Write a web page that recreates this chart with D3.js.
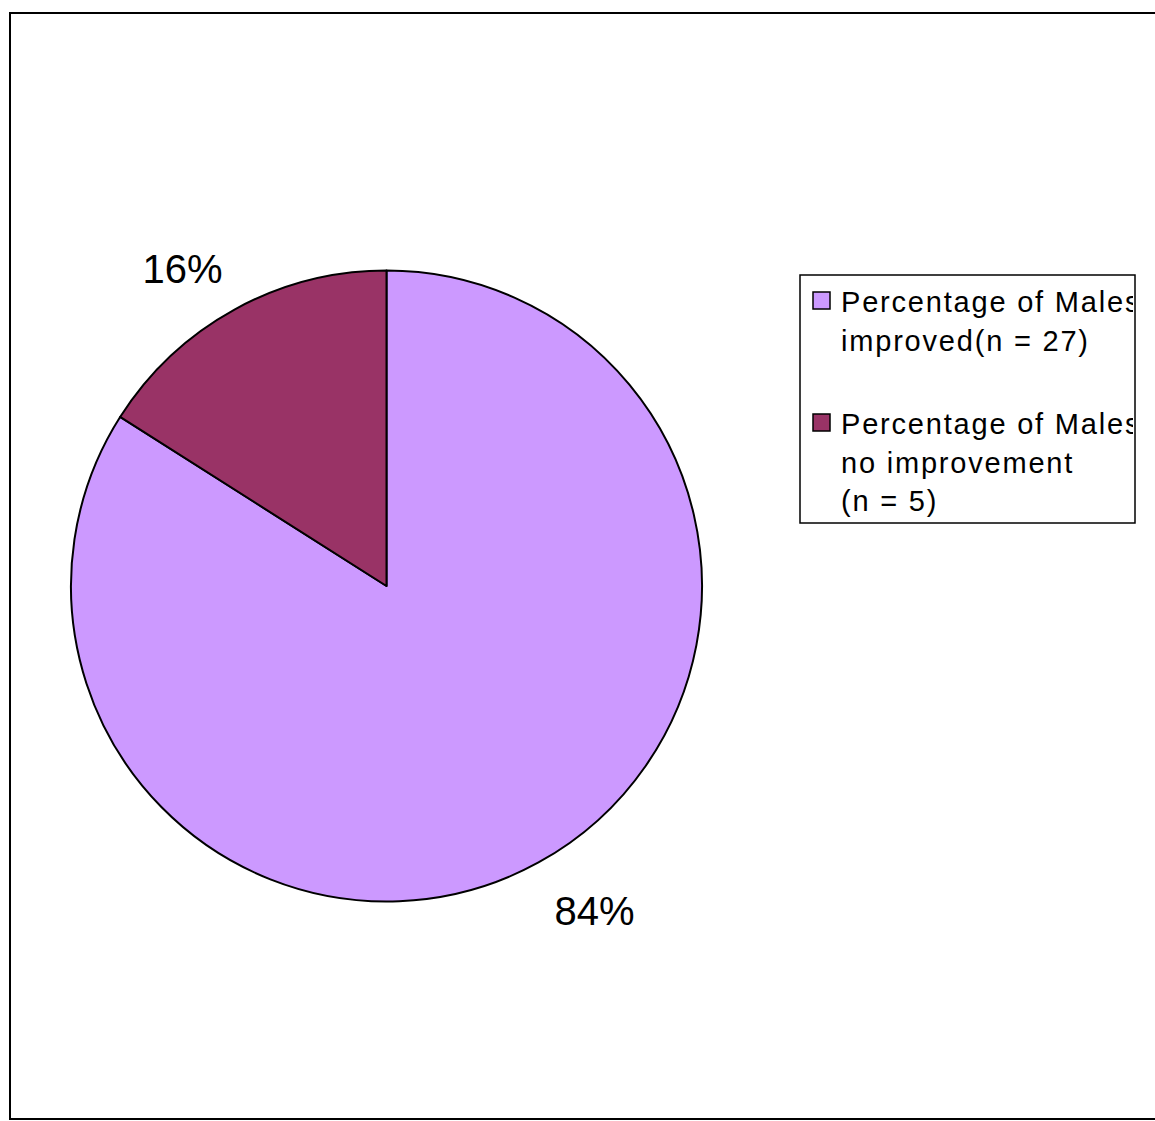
<!DOCTYPE html>
<html>
<head>
<meta charset="utf-8">
<script src="https://cdn.jsdelivr.net/npm/d3@7"></script>
<style>
  body { margin: 0; background: #fff; }
  svg { display: block; font-family: "Liberation Sans", Arial, sans-serif; }
</style>
</head>
<body>
<svg id="chart" width="1155" height="1121"></svg>
<script>
// slice shares (percent) and the counts shown in the legend
const categories = ["Percentage of Males improved", "Percentage of Males no improvement"]
const percents = [84, 16]
const counts = [27, 5]
const sliceColors = ["#cc99ff", "#993366"]
const legendLines = [
    ["Percentage of Males", "improved(n = 27)"],
    ["Percentage of Males", "no improvement", "(n = 5)"]
]

const svg = d3.select("#chart")

// outer chart frame (right side runs off the page)
svg.append("rect")
    .attr("x", 10).attr("y", 13)
    .attr("width", 1160).attr("height", 1106)
    .attr("fill", "none")
    .attr("stroke", "#000")
    .attr("stroke-width", 2)

const cx = 386.5, cy = 586, radius = 315.5

const pie = d3.pie().sort(null).value(d => d)
const arc = d3.arc().innerRadius(0).outerRadius(radius)
const arcs = pie(percents)

const g = svg.append("g").attr("transform", `translate(${cx},${cy})`)

g.selectAll("path")
    .data(arcs)
    .join("path")
    .attr("d", arc)
    .attr("fill", (d, i) => sliceColors[i])
    .attr("stroke", "#000")
    .attr("stroke-width", 2)
    .attr("stroke-linejoin", "round")

// percentage labels sit outside the pie
const labelPos = [[208, 339], [-204, -303]] // offsets from center per slice
g.selectAll("text.pct")
    .data(arcs)
    .join("text")
    .attr("class", "pct")
    .attr("x", (d, i) => labelPos[i][0])
    .attr("y", (d, i) => labelPos[i][1])
    .attr("text-anchor", "middle")
    .attr("font-size", 40)
    .attr("fill", "#000")
    .text(d => d.value + "%")

// legend
const lx = 800, ly = 275, lw = 335, lh = 248
svg.append("clipPath").attr("id", "legclip")
    .append("rect").attr("x", lx).attr("y", ly).attr("width", lw - 2).attr("height", lh)

svg.append("rect")
    .attr("x", lx).attr("y", ly)
    .attr("width", lw).attr("height", lh)
    .attr("fill", "#fff")
    .attr("stroke", "#000")
    .attr("stroke-width", 1.5)

const legend = svg.append("g").attr("clip-path", "url(#legclip)")
const itemTop = [292, 414]
const lineH = 38.5

categories.forEach((c, i) => {
    legend.append("rect")
        .attr("x", 813).attr("y", itemTop[i])
        .attr("width", 17).attr("height", 17)
        .attr("fill", sliceColors[i])
        .attr("stroke", "#000")
        .attr("stroke-width", 1.5)
    legend.append("text")
        .attr("x", 841).attr("y", itemTop[i] + 20)
        .attr("font-size", 29)
        .attr("letter-spacing", 1.8)
        .attr("fill", "#000")
        .selectAll("tspan")
        .data(legendLines[i])
        .join("tspan")
        .attr("x", 841)
        .attr("dy", (d, j) => j === 0 ? 0 : lineH)
        .text(d => d)
})
</script>
</body>
</html>
